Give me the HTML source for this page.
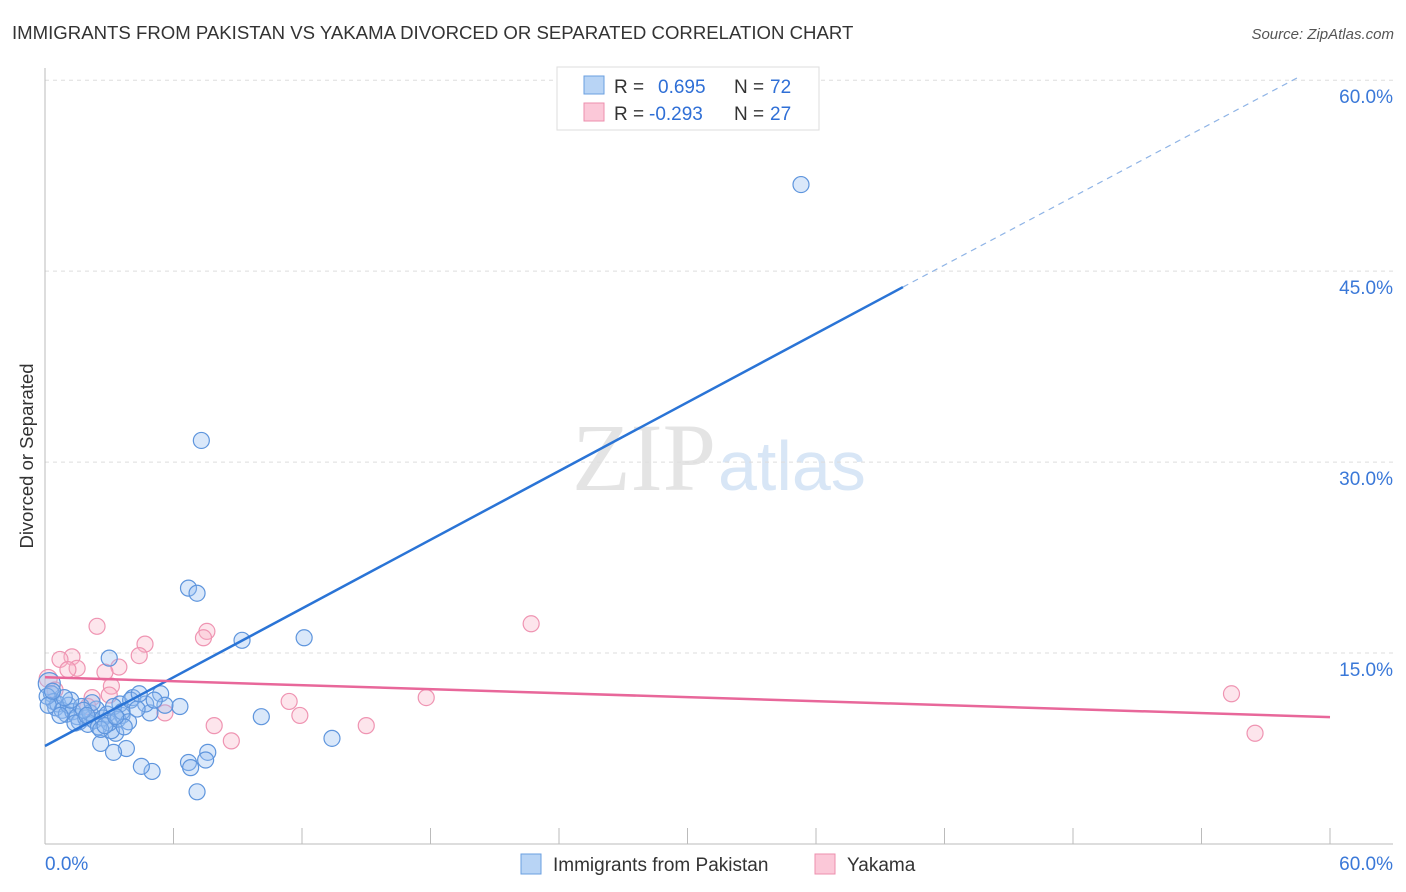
<!DOCTYPE html>
<html><head><meta charset="utf-8"><style>
body{margin:0;background:#fff;font-family:"Liberation Sans",sans-serif}
svg{display:block}
</style></head><body>
<svg id="c" width="1406" height="892">
<text x="12" y="39" font-size="18.6" fill="#333">IMMIGRANTS FROM PAKISTAN VS YAKAMA DIVORCED OR SEPARATED CORRELATION CHART</text>
<text x="1394" y="39" font-size="15" fill="#555" font-style="italic" text-anchor="end">Source: ZipAtlas.com</text>
<text x="716" y="490" font-size="96" fill="#e4e4e4" text-anchor="end" font-family="Liberation Serif, serif">ZIP</text>
<text x="718" y="490" font-size="70" fill="#d8e6f6">atlas</text>
<g id="grid"></g><g id="pts"></g><g id="lines"></g>
<text transform="translate(33,456) rotate(-90)" font-size="18.5" fill="#333" text-anchor="middle">Divorced or Separated</text>
<g>
<rect x="557" y="67" width="262" height="63" fill="#fff" stroke="#ddd"/>
<rect x="584" y="76" width="20" height="18" fill="#b8d4f5" stroke="#6a9fe0"/>
<rect x="584" y="103" width="20" height="18" fill="#fbc8d8" stroke="#ec8fae"/>
<text x="614" y="93" font-size="19" fill="#333">R = </text><text x="658" y="93" font-size="19" fill="#2f6fd6">0.695</text>
<text x="734" y="93" font-size="19" fill="#333">N = </text><text x="770" y="93" font-size="19" fill="#2f6fd6">72</text>
<text x="614" y="120" font-size="19" fill="#333">R = </text><text x="649" y="120" font-size="19" fill="#2f6fd6">-0.293</text>
<text x="734" y="120" font-size="19" fill="#333">N = </text><text x="770" y="120" font-size="19" fill="#2f6fd6">27</text>
</g>
<g>
<rect x="521" y="854" width="20" height="20" fill="#b8d4f5" stroke="#6a9fe0"/>
<text x="553" y="871" font-size="19" fill="#333">Immigrants from Pakistan</text>
<rect x="815" y="854" width="20" height="20" fill="#fbc8d8" stroke="#ec8fae"/>
<text x="847" y="871" font-size="19" fill="#333">Yakama</text>
</g>
</svg>
<script>
const yTicks=[15,30,45,60];
const yTickLabels=["15.0%","30.0%","45.0%","60.0%"];
const xTicks=[0,6,12,18,24,30,36,42,48,54,60];
const blueX=[35.3,7.3,6.7,7.1,9.2,12.1,3.0,10.1,13.4,7.1,5.0,4.5,6.7,6.8,7.6,7.5,3.8,3.2,2.6,3.3,3.1,6.3,5.4,4.9,3.6,3.5,4.1,4.7,5.6,0.2,0.3,0.4,0.5,0.6,0.8,1.0,1.1,1.3,1.5,1.6,1.7,1.9,2.0,2.1,2.3,2.4,2.5,2.7,2.9,3.0,3.2,3.4,3.6,3.9,4.0,4.3,1.2,0.9,0.1,0.15,1.4,2.2,2.6,3.7,4.4,0.7,1.8,2.8,0.35,5.1,3.3,1.95];
const blueY=[51.8,31.7,20.1,19.7,16.0,16.2,14.6,10.0,8.3,4.1,5.7,6.1,6.4,6.0,7.2,6.6,7.5,7.2,7.9,8.7,8.9,10.8,11.8,10.3,10.1,11.0,11.5,11.0,10.9,12.6,11.8,11.2,10.7,11.0,10.5,10.2,10.9,10.4,10.0,9.6,10.8,9.9,9.4,10.3,9.7,10.6,9.2,9.9,10.2,9.5,10.8,9.8,10.4,9.6,11.3,10.6,11.3,11.5,11.6,10.9,9.5,11.1,9.0,9.2,11.8,10.1,10.5,9.3,12.0,11.3,10.0,10.1];
const pinkX=[2.43,22.7,7.56,7.4,4.67,4.4,1.26,0.7,1.5,1.07,3.45,2.8,0.15,3.1,11.4,17.8,55.4,11.9,7.9,8.7,15.0,56.5,5.6,2.2,3.0,0.47,2.0];
const pinkY=[17.1,17.3,16.7,16.2,15.7,14.8,14.7,14.5,13.8,13.7,13.9,13.5,13.0,12.4,11.2,11.5,11.8,10.1,9.3,8.1,9.3,8.7,10.3,11.5,11.7,12.1,10.8];
const blueLine=[[0,7.7],[40.06,43.75]], blueDash=[[40.06,43.75],[58.6,60.3]];
const pinkLine=[[0,13.1],[60,9.97]];
const X=v=>45+v/60*1285, Y=v=>844-v*12.73;
const NS="http://www.w3.org/2000/svg";
function mk(p,t,a){const e=document.createElementNS(NS,t);for(const k in a)e.setAttribute(k,a[k]);p.appendChild(e);return e;}
const g=document.getElementById('grid');
yTicks.forEach((t,i)=>{
 const l=mk(g,'line',{x1:45,x2:1393,y1:Y(t),y2:Y(t),stroke:'#ddd','stroke-dasharray':'4,4'});
 
 
 const tx=mk(g,'text',{x:1393,y:Y(t)+23,'font-size':19,fill:'#3a78d8','text-anchor':'end'});tx.textContent=yTickLabels[i];
 
 
});
mk(g,'line',{x1:45,x2:45,y1:68,y2:844,stroke:'#bbb'});
mk(g,'line',{x1:45,x2:1393,y1:844,y2:844,stroke:'#bbb'});
xTicks.forEach(t=>{const l=mk(g,'line',{x1:X(t),x2:X(t),y1:828,y2:844,stroke:'#bbb'});
 
 });
const a=mk(g,'text',{x:45,y:870,'font-size':19,fill:'#3a78d8'});a.textContent='0.0%';


const b=mk(g,'text',{x:1393,y:870,'font-size':19,fill:'#3a78d8','text-anchor':'end'});b.textContent='60.0%';


const p=document.getElementById('pts');
pinkX.forEach((x,i)=>{const c=mk(p,'circle',{cx:X(x),cy:Y(pinkY[i]),r:i==12?9:8,fill:'rgba(248,180,200,0.35)',stroke:'#ef94b2','stroke-width':1.2});
 
 });
blueX.forEach((x,i)=>{const c=mk(p,'circle',{cx:X(x),cy:Y(blueY[i]),r:i==29?11:8,fill:'rgba(150,190,240,0.35)',stroke:'#5e95dd','stroke-width':1.2});
 
 });
const L=document.getElementById('lines');
const l1=mk(L,'line',{x1:X(blueLine[0][0]),y1:Y(blueLine[0][1]),x2:X(blueLine[1][0]),y2:Y(blueLine[1][1]),stroke:'#2a74d6','stroke-width':2.5});


const l2=mk(L,'line',{x1:X(blueDash[0][0]),y1:Y(blueDash[0][1]),x2:X(blueDash[1][0]),y2:Y(blueDash[1][1]),stroke:'#8fb4e6','stroke-width':1.2,'stroke-dasharray':'6,5'});


const l3=mk(L,'line',{x1:X(pinkLine[0][0]),y1:Y(pinkLine[0][1]),x2:X(pinkLine[1][0]),y2:Y(pinkLine[1][1]),stroke:'#e8679a','stroke-width':2.5});


</script>
</body></html>
